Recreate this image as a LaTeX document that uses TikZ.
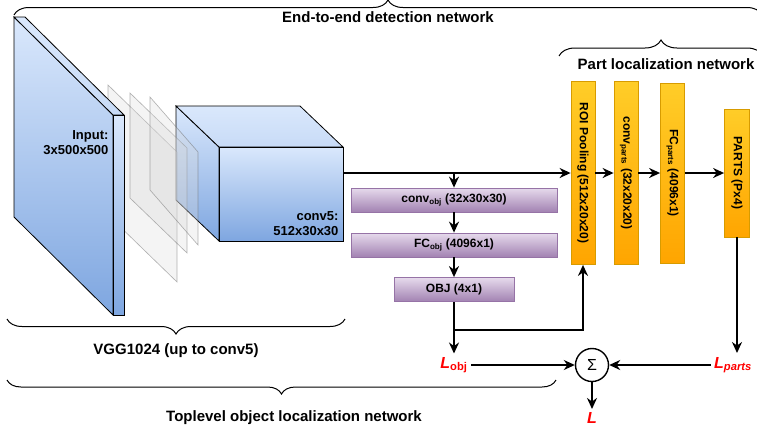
\documentclass[tikz,border=0pt]{standalone}
\usepackage{fontspec}
\setmainfont{Liberation Sans}
\usetikzlibrary{arrows.meta,decorations.pathreplacing,positioning}
\definecolor{bluetop}{HTML}{DAE8FC}
\definecolor{bluebot}{HTML}{7EA6E0}
\definecolor{purpletop}{HTML}{E6DAEC}
\definecolor{purplebot}{HTML}{A282B2}
\definecolor{purpleline}{HTML}{9673A6}
\definecolor{orangeleft}{HTML}{FFA500}
\definecolor{orangeright}{HTML}{FFCD28}
\definecolor{orangeline}{HTML}{D79B00}
\tikzset{
  blueface/.style={draw=black, line width=0.8pt, top color=bluetop, bottom color=bluebot},
  bluetopface/.style={draw=black, line width=0.8pt, top color=bluetop, bottom color=bluetop!80!bluebot},
  layer/.style={draw=black!60, draw opacity=0.5, fill=black!15, fill opacity=0.3, line width=0.6pt},
  objbox/.style={draw=purpleline, line width=0.8pt, top color=purpletop, bottom color=purplebot,
    minimum height=24pt, font=\fontsize{12}{14}\selectfont\bfseries},
  partbox/.style={rotate=-90, draw=orangeline, line width=0.8pt, top color=orangeright,
    bottom color=orangeleft, minimum height=24pt, font=\fontsize{12}{14}\selectfont\bfseries},
  conn/.style={line width=1.8pt, -{Stealth[length=11pt,width=10pt]}},
  loss/.style={text=red, font=\fontsize{16}{18}\selectfont\bfseries},
  netbrace/.style={decorate, decoration={brace, amplitude=15pt}, line width=1pt},
  nettitle/.style={font=\fontsize{15}{18}\selectfont\bfseries},
  dimlabel/.style={anchor=east, align=right, font=\fontsize{13}{15}\selectfont\bfseries}
}
\begin{document}
\begin{tikzpicture}[x=1pt, y=-1pt]
  \useasboundingbox (0,0) rectangle (757,429);
  % conv5 block
  \draw[blueface] (176,106) -- (219,147) -- (219,241) -- (176,200) -- cycle;
  \draw[bluetopface] (176,106) -- (300,106) -- (343,147) -- (219,147) -- cycle;
  \draw[blueface] (219,147) rectangle (343,241);
  % intermediate layers
  \draw[layer] (108,85) -- (177,152) -- (177,282) -- (108,215) -- cycle;
  \draw[layer] (130,93) -- (187,148) -- (187,253) -- (130,198) -- cycle;
  \draw[layer] (150,97) -- (198,152) -- (198,245) -- (150,190) -- cycle;
  % input slab
  \draw[blueface] (14,17) -- (113,115) -- (113,315) -- (14,217) -- cycle;
  \draw[bluetopface] (14,17) -- (25,17) -- (124,115) -- (113,115) -- cycle;
  \draw[blueface] (113,115) rectangle (124,315);
  \node[dimlabel] (inlab) at (112,143) {Input:\\3x500x500};
  \node[dimlabel] (c5lab) at (342,224) {conv5:\\512x30x30};

  % object branch
  \node[objbox, minimum width=206pt] (convobj) at (454,200) {conv\textsubscript{obj} (32x30x30)};
  \node[objbox, minimum width=206pt] (fcobj) at (454,245) {FC\textsubscript{obj} (4096x1)};
  \node[objbox, minimum width=120pt] (objout) at (454,289.5) {OBJ (4x1)};

  % part branch
  \node[partbox, minimum width=183pt] (roi) at (583,173) {ROI Pooling (512x20x20)};
  \node[partbox, minimum width=183pt] (convparts) at (626,173) {conv\textsubscript{parts} (32x20x20)};
  \node[partbox, minimum width=180pt] (fcparts) at (672.5,173) {FC\textsubscript{parts} (4096x1)};
  \node[partbox, minimum width=128pt, minimum height=25pt] (parts) at (737,173) {PARTS (Px4)};

  % losses
  \node[loss] (lobj) at (454,365) {{\itshape L}\textsubscript{obj}};
  \node[loss] (lparts) at (733,365) {\itshape L\textsubscript{parts}};
  \node[circle, draw, line width=1.4pt, minimum size=33pt, inner sep=0pt,
    font=\fontsize{16}{18}\selectfont] (sum) at (592,365) {Σ};
  \node[loss] (ltot) at (592,418) {\itshape L};

  % connectors
  \coordinate (c5out) at (343,173);
  \coordinate (br) at (454,173);
  \coordinate (br2) at (454,330);
  \coordinate (partsin) at (737,353);
  \draw[conn] (c5out) -- (roi);
  \draw[conn] (br) -- (convobj);
  \draw[conn] (convobj) -- (fcobj);
  \draw[conn] (fcobj) -- (objout);
  \draw[conn] (objout) -- (lobj);
  \draw[conn] (br2) -| (roi);
  \draw[conn] (roi) -- (convparts);
  \draw[conn] (convparts) -- (fcparts);
  \draw[conn] (fcparts) -- (parts);
  \draw[conn] (parts) -- (partsin);
  \draw[conn] (lobj) -- (sum);
  \draw[conn] (lparts) -- (sum);
  \draw[conn] (sum) -- (ltot);

  % braces
  \draw[netbrace] (14,15) -- (762,15);
  \node[nettitle] (e2e) at (388,17) {End-to-end detection network};
  \draw[netbrace, decoration={amplitude=16pt}] (559,56) -- (763,56);
  \node[nettitle] (partnet) at (666,64) {Part localization network};
  \draw[netbrace] (345,319) -- (7,319);
  \node[nettitle] (vgg) at (176,351) {VGG1024 (up to conv5)};
  \draw[netbrace, decoration={amplitude=14pt}] (556,380) -- (7,380);
  \node[nettitle] (toplevel) at (294,418) {Toplevel object localization network};
\end{tikzpicture}
\end{document}
